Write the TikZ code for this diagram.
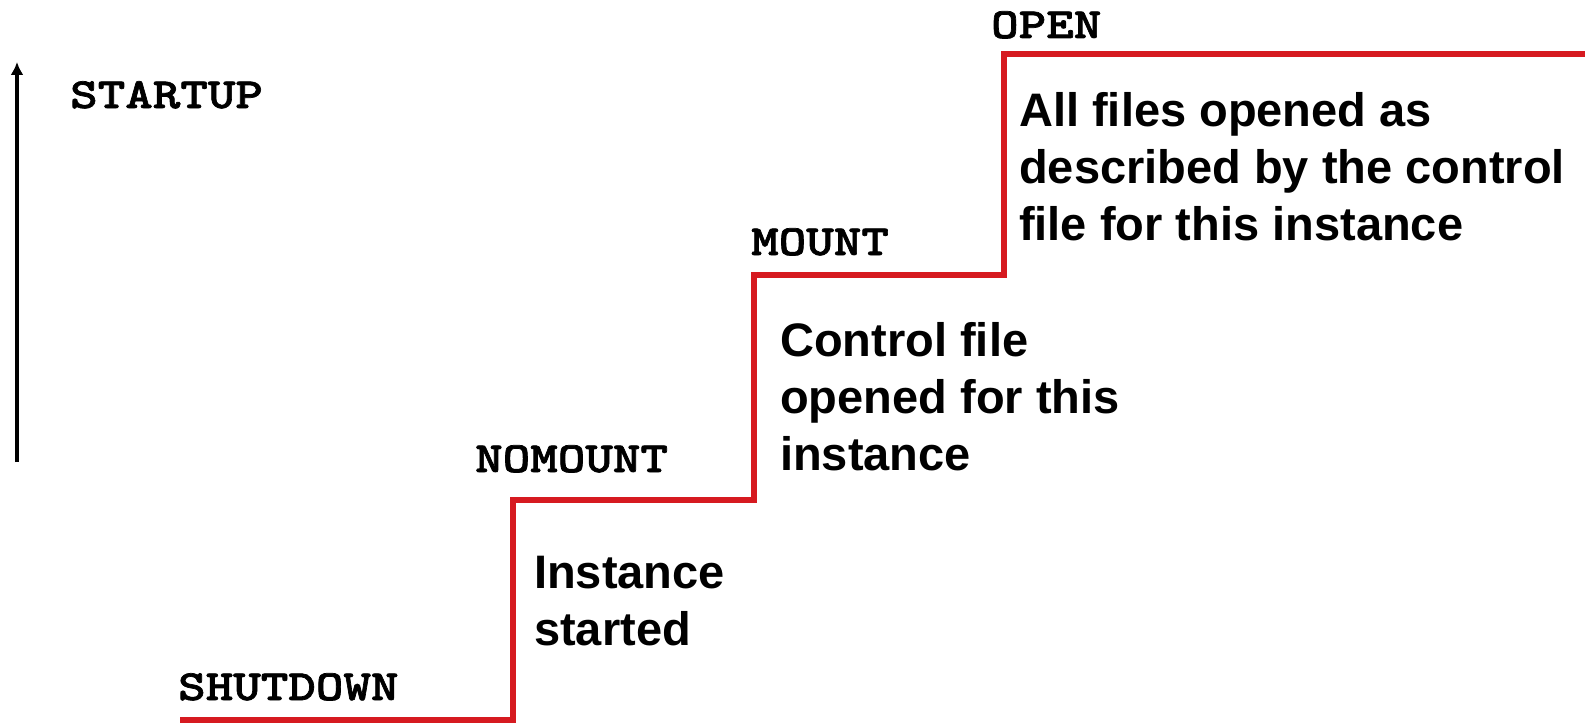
\documentclass[tikz,border=0pt]{standalone}
\usepackage{fontspec}
\setmainfont{Liberation Sans}
\newfontfamily\monofnt{lmmonolt10-bold.otf}[FakeStretch=1.22,FakeBold=1.6]
\usetikzlibrary{arrows.meta}
\definecolor{stepred}{RGB}{214,26,32}
\tikzset{
  statelbl/.style={anchor=base west, inner sep=0pt, font=\monofnt\fontsize{43}{50}\selectfont},
  desc/.style={anchor=base west, inner sep=0pt, align=left, font=\bfseries\fontsize{47}{57}\selectfont},
  stairs/.style={draw=stepred, line width=5.5pt},
  upaxis/.style={draw=black, line width=3.5pt, -{Latex[length=13pt,width=13pt]}}
}
\begin{document}
\begin{tikzpicture}[x=1pt,y=-1pt]
\useasboundingbox (0,0) rectangle (1585,725);
% axis
\coordinate (ax0) at (17,462);
\coordinate (ax1) at (17,62);
\draw[upaxis] (ax0) -- (ax1);
% stairs
\coordinate (s0) at (180,720);
\coordinate (s1) at (513,720);
\coordinate (s2) at (513,500);
\coordinate (s3) at (754,500);
\coordinate (s4) at (754,275);
\coordinate (s5) at (1004,275);
\coordinate (s6) at (1004,54);
\coordinate (s7) at (1590,54);
\draw[stairs] (s0) -- (s1) -- (s2) -- (s3) -- (s4) -- (s5) -- (s6) -- (s7);
% labels
\node[statelbl] (startup) at (70,108) {STARTUP};
\node[statelbl] (shutdown) at (178,700) {SHUTDOWN};
\node[statelbl] (nomount) at (475,472) {NOMOUNT};
\node[statelbl] (mount) at (751,255) {MOUNT};
\node[statelbl] (open) at (991,38) {OPEN};
% descriptions (anchored at the baseline of the last line)
\node[desc] (d1) at (534,645) {Instance\\started};
\node[desc] (d2) at (780,470) {Control file\\opened for this\\instance};
\node[desc] (d3) at (1019,240) {All files opened as\\described by the control\\file for this instance};
\end{tikzpicture}
\end{document}
